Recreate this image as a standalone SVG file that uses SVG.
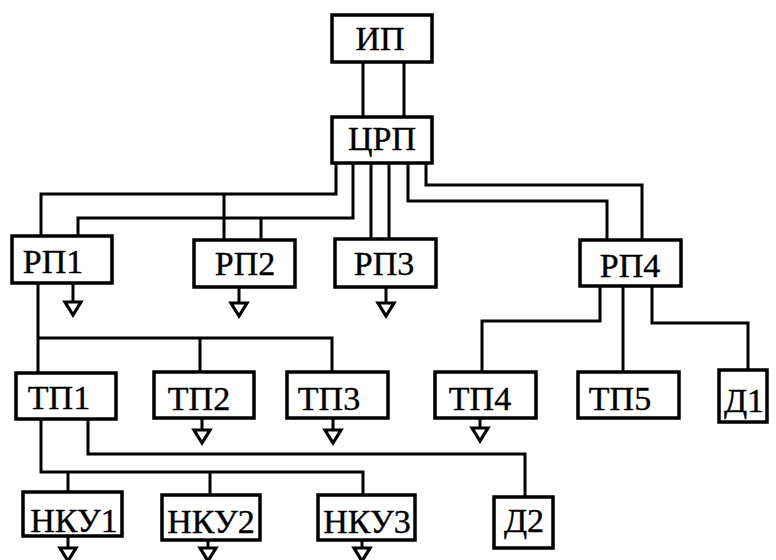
<svg xmlns="http://www.w3.org/2000/svg" xmlns:xlink="http://www.w3.org/1999/xlink" width="776" height="560" viewBox="0 0 776 560">
<style>
.box{fill:#fff;stroke:#000;stroke-width:3.5}
.lbl{font-family:"Liberation Serif","Times New Roman",serif;font-size:34px;fill:#000;stroke:#000;stroke-width:0.4;text-anchor:middle}
.ln{fill:none;stroke:#000;stroke-width:3}
.tri{fill:#fff;stroke:#000;stroke-width:3.2;stroke-linejoin:miter}
</style>
<defs>
<path id="tri" class="tri" d="M-8,0 H8 L0,13 Z"/>
</defs>
<rect width="776" height="560" fill="#fff"/>
<g id="connectors" class="ln">
<path d="M363,62 V117 M404,62 V117"/>
<path d="M336,163 V194 H41 V236 M224,194 V240"/>
<path d="M353,163 V218 H78 V236 M261,218 V240"/>
<path d="M371,163 V239 M389,163 V239"/>
<path d="M408,163 V201 H607 V240"/>
<path d="M426,163 V185 H642 V240"/>
<path d="M38,283 V373 M38,338 H332 V372 M200,338 V372"/>
<path d="M41,419 V472 H363 V495 M68,472 V492 M210,472 V495"/>
<path d="M88,419 V454 H525 V497"/>
<path d="M600,286 V321 H482 V372"/>
<path d="M623,286 V372"/>
<path d="M652,286 V323 H748 V370"/>
<path d="M73,283 V302 M239,287 V303 M386,287 V303 M202,418 V430 M333,418 V430 M480,418 V428 M68,536 V548 M208,540 V548 M362,540 V548"/>
<use xlink:href="#tri" href="#tri" x="73" y="302"/>
<use xlink:href="#tri" href="#tri" x="239" y="303"/>
<use xlink:href="#tri" href="#tri" x="386" y="303"/>
<use xlink:href="#tri" href="#tri" x="202" y="430"/>
<use xlink:href="#tri" href="#tri" x="333" y="430"/>
<use xlink:href="#tri" href="#tri" x="480" y="428"/>
<use xlink:href="#tri" href="#tri" x="68" y="548"/>
<use xlink:href="#tri" href="#tri" x="208" y="548"/>
<use xlink:href="#tri" href="#tri" x="362" y="548"/>
</g>
<g id="IP"><rect class="box" x="332" y="15" width="100" height="47"/><text class="lbl" x="380" y="50">ИП</text></g>
<g id="CRP"><rect class="box" x="332" y="117" width="100" height="46"/><text class="lbl" x="382" y="150">ЦРП</text></g>
<g id="RP1"><rect class="box" x="12" y="236" width="100" height="47"/><text class="lbl" x="53" y="273">РП1</text></g>
<g id="RP2"><rect class="box" x="194" y="240" width="101" height="47"/><text class="lbl" x="245" y="275">РП2</text></g>
<g id="RP3"><rect class="box" x="335" y="239" width="101" height="48"/><text class="lbl" x="384" y="275">РП3</text></g>
<g id="RP4"><rect class="box" x="580" y="240" width="101" height="46"/><text class="lbl" x="630" y="277">РП4</text></g>
<g id="TP1"><rect class="box" x="16" y="373" width="100" height="46"/><text class="lbl" x="59" y="409">ТП1</text></g>
<g id="TP2"><rect class="box" x="154" y="372" width="100" height="46"/><text class="lbl" x="199" y="410">ТП2</text></g>
<g id="TP3"><rect class="box" x="287" y="372" width="101" height="46"/><text class="lbl" x="329" y="410">ТП3</text></g>
<g id="TP4"><rect class="box" x="435" y="372" width="101" height="46"/><text class="lbl" x="480" y="410">ТП4</text></g>
<g id="TP5"><rect class="box" x="578" y="372" width="101" height="46"/><text class="lbl" x="620" y="410">ТП5</text></g>
<g id="D1"><rect class="box" x="719" y="370" width="48" height="52"/><text class="lbl" x="744" y="412">Д1</text></g>
<g id="D2"><rect class="box" x="494" y="497" width="59" height="51"/><text class="lbl" x="524" y="532">Д2</text></g>
<g id="NKU1"><rect class="box" x="23" y="492" width="99" height="44"/><text class="lbl" x="74" y="532">НКУ1</text></g>
<g id="NKU2"><rect class="box" x="162" y="495" width="98" height="45"/><text class="lbl" x="211" y="533">НКУ2</text></g>
<g id="NKU3"><rect class="box" x="318" y="495" width="97" height="45"/><text class="lbl" x="367" y="533">НКУ3</text></g>
</svg>
